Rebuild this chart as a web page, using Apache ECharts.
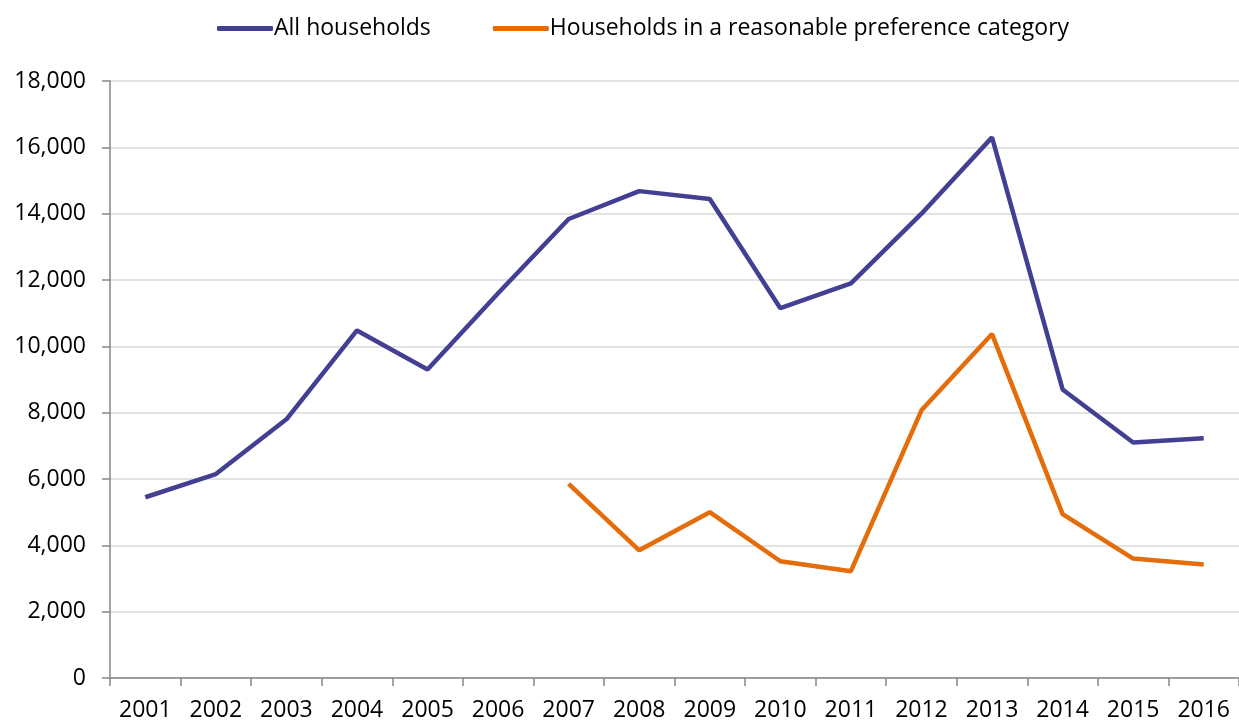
<!DOCTYPE html>
<html><head><meta charset="utf-8">
<script src="https://cdn.jsdelivr.net/npm/echarts@6/dist/echarts.min.js"></script>
<style>html,body{margin:0;padding:0;background:#fff}#c{width:1239px;height:722px}</style>
</head><body><div id="c"></div>
<script>
const years = ['2001','2002','2003','2004','2005','2006','2007','2008','2009','2010','2011','2012','2013','2014','2015','2016'];
const allHouseholds = [5450,6150,7800,10480,9300,11600,13840,14680,14440,11150,11900,14000,16300,8700,7100,7230];
const reasonablePreference = [null,null,null,null,null,null,5850,3850,5000,3520,3220,8070,10370,4940,3600,3420];
const seriesNames = ['All households','Households in a reasonable preference category'];

const font = '"Open Sans", "Liberation Sans", sans-serif';
const chart = echarts.init(document.getElementById('c'));
chart.setOption({
  animation:false,
  textStyle:{fontFamily:font},
  legend:{
    top:12, left:212, itemGap:62, itemWidth:56, itemHeight:5,
    icon:'roundRect',
    textStyle:{fontSize:23,color:'#000',fontFamily:font, padding:[0,0,0,-4]},
    data:seriesNames
  },
  grid:{left:110, top:81, width:1136, height:597, containLabel:false},
  xAxis:{
    type:'category', data:years, boundaryGap:true,
    axisLine:{lineStyle:{color:'#868686',width:1.5}},
    axisTick:{show:true,length:8,lineStyle:{color:'#868686',width:1.5},interval:0},
    axisLabel:{fontSize:23,color:'#000',margin:21,interval:0,fontFamily:font}
  },
  yAxis:{
    type:'value', min:0, max:18000, interval:2000,
    axisLine:{show:true,lineStyle:{color:'#868686',width:1.5}},
    axisTick:{show:true,length:8,lineStyle:{color:'#868686',width:1.5}},
    axisLabel:{fontSize:23,color:'#000',margin:24,fontFamily:font,
      formatter:v=>v.toLocaleString('en-US')},
    splitLine:{lineStyle:{color:'#D9D9D9',width:1.5}}
  },
  series:[
    {name:seriesNames[0], type:'line', data:allHouseholds, symbol:'none',
     lineStyle:{color:'#433F93',width:4.5}, itemStyle:{color:'#433F93'}},
    {name:seriesNames[1], type:'line', data:reasonablePreference, symbol:'none',
     lineStyle:{color:'#E46C0A',width:4.5}, itemStyle:{color:'#E46C0A'}}
  ]
});
</script></body></html>
